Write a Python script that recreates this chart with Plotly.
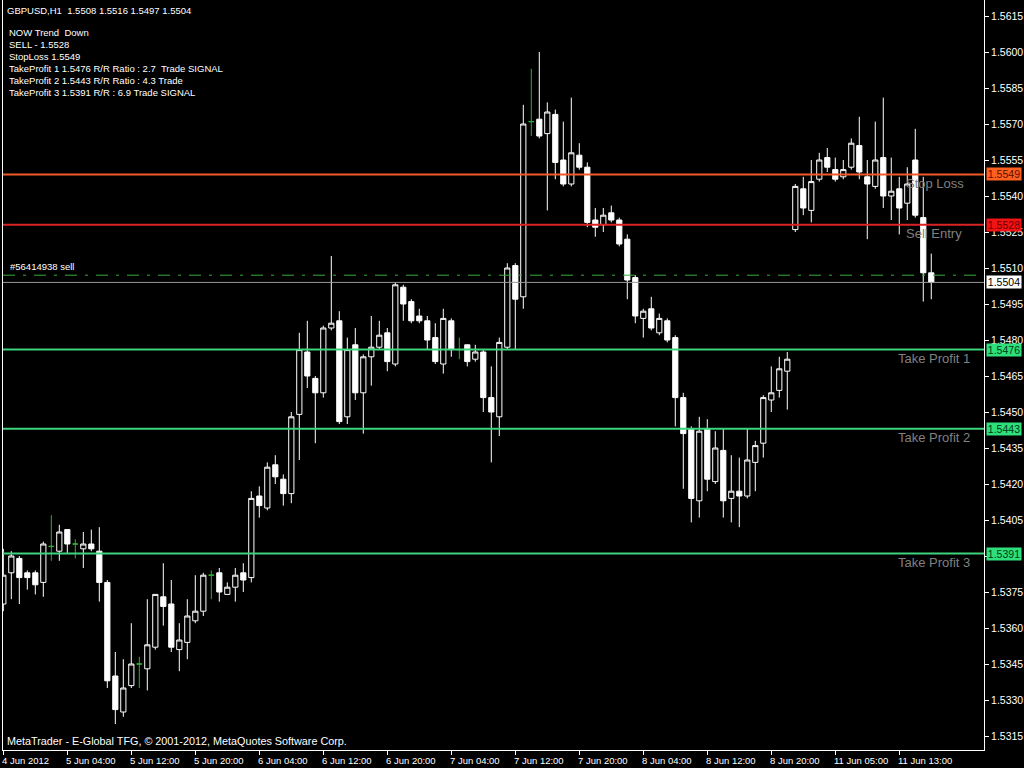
import plotly.graph_objects as go

# ---------------- data (GBPUSD H1) ----------------
opens = [1.5370, 1.5383, 1.5389, 1.5383, 1.5383, 1.5379, 1.5394, 1.5392, 1.5401, 1.5395,
         1.5393, 1.5395, 1.5392, 1.5379, 1.5340, 1.5325, 1.5336, 1.5345, 1.5343, 1.5352,
         1.5373, 1.5370, 1.5351, 1.5354, 1.5363, 1.5367, 1.5382, 1.5383, 1.5374, 1.5377,
         1.5383, 1.5381, 1.5415, 1.5410, 1.5428, 1.5422, 1.5416, 1.5449, 1.5475, 1.5464,
         1.5458, 1.5485, 1.5488, 1.5448, 1.5478, 1.5458, 1.5473, 1.5477, 1.5483, 1.5470,
         1.5502, 1.5496, 1.5490, 1.5488, 1.5481, 1.5470, 1.5488, 1.5476, 1.5478, 1.5472,
         1.5475, 1.5456, 1.5448, 1.5477, 1.5511, 1.5498, 1.5571, 1.5572, 1.5566, 1.5574,
         1.5555, 1.5545, 1.5557, 1.5552, 1.5530, 1.5528, 1.5533, 1.5530, 1.5522, 1.5506,
         1.5489, 1.5493, 1.5483, 1.5488, 1.5481, 1.5456, 1.5443, 1.5413, 1.5443, 1.5421,
         1.5434, 1.5414, 1.5417, 1.5415, 1.5429, 1.5437, 1.5455, 1.5459, 1.5467, 1.5526,
         1.5543, 1.5534, 1.5547, 1.5556, 1.5551, 1.5548, 1.5552, 1.5561, 1.5548, 1.5544,
         1.5556, 1.5540, 1.5543, 1.5537, 1.5555, 1.5531, 1.5508]
highs = [1.5393, 1.5392, 1.5390, 1.5384, 1.5384, 1.5396, 1.5407, 1.5403, 1.5401, 1.5397,
         1.5400, 1.5401, 1.5402, 1.5380, 1.5350, 1.5347, 1.5362, 1.5348, 1.5372, 1.5374,
         1.5387, 1.5380, 1.5362, 1.5372, 1.5382, 1.5383, 1.5384, 1.5385, 1.5379, 1.5385,
         1.5387, 1.5417, 1.5419, 1.5429, 1.5432, 1.5424, 1.5450, 1.5483, 1.5488, 1.5465,
         1.5486, 1.5515, 1.5492, 1.5481, 1.5485, 1.5474, 1.5490, 1.5488, 1.5485, 1.5504,
         1.5503, 1.5497, 1.5493, 1.5490, 1.5487, 1.5493, 1.5489, 1.5481, 1.5478, 1.5478,
         1.5476, 1.5469, 1.5481, 1.5512, 1.5512, 1.5578, 1.5593, 1.5600, 1.5579, 1.5576,
         1.5571, 1.5581, 1.5562, 1.5554, 1.5535, 1.5535, 1.5536, 1.5531, 1.5524, 1.5507,
         1.5493, 1.5498, 1.5491, 1.5489, 1.5482, 1.5458, 1.5444, 1.5448, 1.5447, 1.5442,
         1.5443, 1.5432, 1.5431, 1.5443, 1.5438, 1.5457, 1.5469, 1.5473, 1.5475, 1.5545,
         1.5548, 1.5555, 1.5558, 1.5560, 1.5556, 1.5555, 1.5564, 1.5573, 1.5555, 1.5571,
         1.5581, 1.5556, 1.5548, 1.5552, 1.5568, 1.5548, 1.5516]
lows = [1.5367, 1.5372, 1.5370, 1.5376, 1.5374, 1.5373, 1.5388, 1.5388, 1.5391, 1.5389,
        1.5385, 1.5392, 1.5371, 1.5335, 1.5320, 1.5323, 1.5335, 1.5335, 1.5334, 1.5351,
        1.5361, 1.5350, 1.5342, 1.5347, 1.5362, 1.5365, 1.5372, 1.5371, 1.5374, 1.5371,
        1.5375, 1.5379, 1.5406, 1.5409, 1.5420, 1.5411, 1.5412, 1.5430, 1.5460, 1.5437,
        1.5456, 1.5484, 1.5445, 1.5445, 1.5455, 1.5441, 1.5461, 1.5476, 1.5467, 1.5469,
        1.5488, 1.5487, 1.5487, 1.5476, 1.5470, 1.5466, 1.5473, 1.5472, 1.5469, 1.5471,
        1.5450, 1.5429, 1.5440, 1.5476, 1.5476, 1.5493, 1.5565, 1.5564, 1.5534, 1.5547,
        1.5544, 1.5544, 1.5551, 1.5527, 1.5523, 1.5525, 1.5529, 1.5519, 1.5497, 1.5487,
        1.5481, 1.5484, 1.5482, 1.5479, 1.5444, 1.5418, 1.5404, 1.5406, 1.5417, 1.5420,
        1.5406, 1.5404, 1.5402, 1.5414, 1.5417, 1.5431, 1.5450, 1.5456, 1.5451, 1.5525,
        1.5532, 1.5529, 1.5546, 1.5550, 1.5546, 1.5547, 1.5551, 1.5547, 1.5522, 1.5543,
        1.5535, 1.5530, 1.5524, 1.5530, 1.5531, 1.5496, 1.5497]
closes = [1.5382, 1.5390, 1.5381, 1.5381, 1.5378, 1.5395, 1.5394, 1.5400, 1.5395, 1.5395,
          1.5395, 1.5393, 1.5379, 1.5338, 1.5326, 1.5335, 1.5345, 1.5345, 1.5353, 1.5374,
          1.5369, 1.5352, 1.5355, 1.5365, 1.5367, 1.5382, 1.5382, 1.5375, 1.5377, 1.5382,
          1.5380, 1.5414, 1.5411, 1.5427, 1.5423, 1.5416, 1.5448, 1.5476, 1.5465, 1.5458,
          1.5485, 1.5487, 1.5446, 1.5476, 1.5458, 1.5473, 1.5477, 1.5482, 1.5471, 1.5503,
          1.5495, 1.5488, 1.5488, 1.5480, 1.5471, 1.5489, 1.5476, 1.5476, 1.5471, 1.5475,
          1.5456, 1.5450, 1.5479, 1.5510, 1.5497, 1.5570, 1.5571, 1.5565, 1.5575, 1.5554,
          1.5545, 1.5558, 1.5552, 1.5529, 1.5527, 1.5532, 1.5530, 1.5520, 1.5505, 1.5490,
          1.5492, 1.5485, 1.5489, 1.5480, 1.5456, 1.5441, 1.5414, 1.5442, 1.5422, 1.5435,
          1.5413, 1.5417, 1.5415, 1.5430, 1.5436, 1.5456, 1.5458, 1.5468, 1.5472, 1.5544,
          1.5535, 1.5546, 1.5555, 1.5552, 1.5547, 1.5551, 1.5562, 1.5550, 1.5545, 1.5555,
          1.5540, 1.5542, 1.5535, 1.5545, 1.5532, 1.5508, 1.5504]

tick_bars = [0, 8, 16, 24, 32, 40, 48, 56, 64, 72, 80, 88, 96, 104, 112]
tick_labels = ["4 Jun 2012", "5 Jun 04:00", "5 Jun 12:00", "5 Jun 20:00", "6 Jun 04:00",
               "6 Jun 12:00", "6 Jun 20:00", "7 Jun 04:00", "7 Jun 12:00", "7 Jun 20:00",
               "8 Jun 04:00", "8 Jun 12:00", "8 Jun 20:00", "11 Jun 05:00", "11 Jun 13:00"]
price_ticks = [1.5315, 1.5330, 1.5345, 1.5360, 1.5375, 1.5390, 1.5405, 1.5420, 1.5435,
               1.5450, 1.5465, 1.5480, 1.5495, 1.5510, 1.5525, 1.5540, 1.5555, 1.5570,
               1.5585, 1.5600, 1.5615]
# 1.5390 is hidden behind the Take Profit 3 price tag in the reference
price_tick_text = ["" if v == 1.5390 else f"{v:.4f}" for v in price_ticks]

level_names = ["Stop Loss", "Sell Entry", "Take Profit 1", "Take Profit 2", "Take Profit 3"]
level_values = [1.5549, 1.5528, 1.5476, 1.5443, 1.5391]
order_price = 1.5507
bid_price = 1.5504

info_lines = ["NOW Trend  Down", "SELL - 1.5528", "StopLoss 1.5549",
              "TakeProfit 1 1.5476 R/R Ratio : 2.7  Trade SIGNAL",
              "TakeProfit 2 1.5443 R/R Ratio : 4.3 Trade",
              "TakeProfit 3 1.5391 R/R : 6.9 Trade SIGNAL"]
header = "GBPUSD,H1  1.5508 1.5516 1.5497 1.5504"
order_label = "#56414938 sell"
copyright_text = "MetaTrader - E-Global TFG, © 2001-2012, MetaQuotes Software Corp."

# ---------------- styles ----------------
FONT = "Liberation Sans"
level_line_colors = ["#F25A28", "#DC2323", "#3DD47C", "#3DD47C", "#3DD47C"]
tag_bg = ["#FF5F1F", "#F01414", "#2EE07C", "#2EE07C", "#2EE07C"]
tag_fg = ["#5A1000", "#6E0000", "#003A16", "#003A16", "#003A16"]
level_label_xpaper = [0.9185, 0.9185, 0.9104, 0.9104, 0.9104]

xs = list(range(len(opens)))
is_doji = [o == c for o, c in zip(opens, closes)]

def pick(vals, keep):
    return [v if k else None for v, k in zip(vals, keep)]

normal = [not d for d in is_doji]

fig = go.Figure()
fig.add_trace(go.Candlestick(
    x=xs, open=pick(opens, normal), high=pick(highs, normal),
    low=pick(lows, normal), close=pick(closes, normal),
    increasing=dict(line=dict(color="white", width=1), fillcolor="black"),
    decreasing=dict(line=dict(color="white", width=1), fillcolor="white"),
    whiskerwidth=0, hoverinfo="skip", name="GBPUSD"))
fig.add_trace(go.Candlestick(
    x=xs, open=pick(opens, is_doji), high=pick(highs, is_doji),
    low=pick(lows, is_doji), close=pick(closes, is_doji),
    increasing=dict(line=dict(color="#2FB02F", width=1), fillcolor="#2FB02F"),
    decreasing=dict(line=dict(color="#2FB02F", width=1), fillcolor="#2FB02F"),
    whiskerwidth=0, hoverinfo="skip", name="doji"))

shapes = []
annotations = []
# order & bid lines
shapes.append(dict(type="line", xref="paper", x0=0, x1=1, yref="y", y0=order_price, y1=order_price,
                   line=dict(color="#3CAA3C", width=1, dash="12px,8px,3px,8px")))
shapes.append(dict(type="line", xref="paper", x0=0, x1=1, yref="y", y0=bid_price, y1=bid_price,
                   line=dict(color="#9A9A9A", width=1)))
for name, val, lc, xp, bg, fg in zip(level_names, level_values, level_line_colors,
                                     level_label_xpaper, tag_bg, tag_fg):
    shapes.append(dict(type="line", xref="paper", x0=0, x1=1, yref="y", y0=val, y1=val,
                       line=dict(color=lc, width=2)))
    annotations.append(dict(xref="paper", x=xp, xanchor="left", yref="y", y=val, yanchor="middle",
                            yshift=-9, text=name, showarrow=False,
                            font=dict(family=FONT, size=13, color="#808080")))
    annotations.append(dict(xref="paper", x=1, xanchor="left", xshift=2, yref="y", y=val,
                            yanchor="middle", text=f"{val:.4f}", showarrow=False, bgcolor=bg,
                            width=34, height=12, borderpad=0,
                            font=dict(family=FONT, size=10.5, color=fg)))
annotations.append(dict(xref="paper", x=1, xanchor="left", xshift=2, yref="y", y=bid_price,
                        yanchor="middle", text=f"{bid_price:.4f}", showarrow=False, bgcolor="white",
                        width=34, height=12, borderpad=0,
                        font=dict(family=FONT, size=10.5, color="black")))

# header and info text
annotations.append(dict(xref="paper", x=0, xanchor="left", xshift=2, yref="paper", y=1,
                        yanchor="middle", yshift=-10, text=header, showarrow=False,
                        font=dict(family=FONT, size=9.5, color="white")))
for k, line in enumerate(info_lines):
    annotations.append(dict(xref="paper", x=0, xanchor="left", xshift=4, yref="paper", y=1,
                            yanchor="middle", yshift=-(32 + 12 * k), text=line, showarrow=False,
                            font=dict(family=FONT, size=9.5, color="white")))
annotations.append(dict(xref="paper", x=0, xanchor="left", xshift=5, yref="y", y=order_price,
                        yanchor="bottom", yshift=1, text=order_label, showarrow=False,
                        font=dict(family=FONT, size=9.5, color="white")))
annotations.append(dict(xref="paper", x=0, xanchor="left", xshift=2, yref="paper", y=0,
                        yanchor="bottom", yshift=1, text=copyright_text, showarrow=False,
                        font=dict(family=FONT, size=10.8, color="white")))
# x tick labels (left aligned at tick, MetaTrader style)
for b, lab in zip(tick_bars, tick_labels):
    annotations.append(dict(xref="x", x=b, xanchor="left", xshift=-3, yref="paper", y=0,
                            yanchor="top", yshift=-3, text=lab, showarrow=False,
                            font=dict(family=FONT, size=9.5, color="white")))

fig.update_layout(
    width=1024, height=768,
    paper_bgcolor="black", plot_bgcolor="black",
    margin=dict(l=3, r=40, t=0, b=18),
    showlegend=False, boxgap=0.35, boxgroupgap=0,
    shapes=shapes, annotations=annotations,
    xaxis=dict(range=[-0.04, 122.59], rangeslider=dict(visible=False), showgrid=False,
               zeroline=False, tickmode="array", tickvals=tick_bars, showticklabels=False,
               ticks="outside", ticklen=4, tickcolor="white", showline=True,
               linecolor="white", linewidth=1),
    yaxis=dict(side="right", range=[1.5309167, 1.5621667], tickmode="array",
               tickvals=price_ticks, ticktext=price_tick_text,
               ticks="outside", ticklen=4, tickcolor="white", showline=True, mirror=True,
               linecolor="white", linewidth=1, showgrid=False, zeroline=False,
               tickfont=dict(family=FONT, size=10.5, color="white")),
)

fig.write_html("out.html", config={"displayModeBar": False},
               post_script="document.body.style.margin='0';document.body.style.overflow='hidden';")
